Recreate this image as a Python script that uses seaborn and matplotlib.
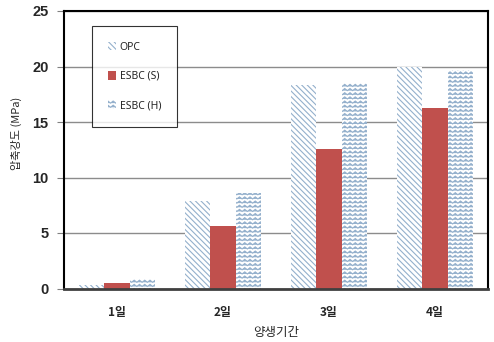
import warnings
warnings.filterwarnings("ignore")
import numpy as np
import pandas as pd
import matplotlib
matplotlib.use("Agg")
import matplotlib.pyplot as plt
import matplotlib.hatch as mhatch
from matplotlib.path import Path
from matplotlib.patches import Patch
import seaborn as sns

# ---- data ----
categories = ["1일", "2일", "3일", "4일"]
series = ["OPC", "ESBC (S)", "ESBC (H)"]
opc = [0.3, 7.9, 18.3, 20.0]
esbc_s = [0.5, 5.6, 12.6, 16.3]
esbc_h = [0.9, 8.6, 18.5, 19.7]
y_ticks = [0, 5, 10, 15, 20, 25]
x_label = "양생기간"
y_label = "압축강도 (MPa)"


# ---- custom zigzag hatch ----
class ZigZagHatch(mhatch.HatchPatternBase):
    def __init__(self, hatch, density):
        self.num_rows = int(hatch.count('z') * density)
        self.teeth = int(round(self.num_rows * 0.8))
        self.n = 2 * self.teeth + 1
        self.num_vertices = self.num_rows * self.n if self.num_rows else 0

    def set_vertices_and_codes(self, vertices, codes):
        n = self.n
        xs = np.linspace(0.0, 1.0, n)
        amp = 0.5 / self.num_rows
        for i in range(self.num_rows):
            y0 = (i + 0.25) / self.num_rows
            v = vertices[i * n:(i + 1) * n]
            v[:, 0] = xs
            v[:, 1] = y0 + amp * (np.arange(n) % 2)
            codes[i * n] = Path.MOVETO
            codes[i * n + 1:(i + 1) * n] = Path.LINETO


mhatch._hatch_types.append(ZigZagHatch)

df = pd.DataFrame({
    "day": categories * 3,
    "series": [series[0]] * 4 + [series[1]] * 4 + [series[2]] * 4,
    "value": opc + esbc_s + esbc_h,
})

sns.set_style("white")
plt.rcParams["font.family"] = ["Liberation Sans", "Noto Sans CJK KR", "DejaVu Sans"]
plt.rcParams["hatch.linewidth"] = 0.8

hatch_col = "#94b0cc"
red = "#c0504d"
fills = ["white", red, "white"]
hatches = ["\\\\\\\\\\\\", None, "zzzz"]

fig = plt.figure(figsize=(4.94, 3.42), dpi=100)
ax = fig.add_axes([64 / 494, 1 - 288.5 / 342, 424 / 494, 277.5 / 342])

sns.barplot(data=df, x="day", y="value", hue="series", order=categories,
            hue_order=series, palette=fills, saturation=1, width=0.72,
            gap=0, legend=False, ax=ax, errorbar=None)

for cont, fc, h in zip(ax.containers, fills, hatches):
    for bar in cont:
        bar.set_facecolor(fc)
        bar.set_linewidth(0)
        if h:
            bar.set_hatch(h)
            bar.set_edgecolor(hatch_col)
        else:
            bar.set_edgecolor(fc)

ax.set_ylim(0, 25)
ax.set_yticks(y_ticks)
ax.set_xlim(-0.5, 3.5)
ax.yaxis.grid(True, color="#8c8c8c", linewidth=1.0)
ax.set_axisbelow(True)
for s in ax.spines.values():
    s.set_color("black")
    s.set_linewidth(1.5)
    s.set_visible(True)
ax.spines["bottom"].set_color("#404040")
ax.spines["bottom"].set_linewidth(2)

ax.tick_params(axis="y", which="both", left=True, length=5, width=0.8,
               color="#808080", pad=6, labelsize=10.5)
ax.tick_params(axis="x", bottom=False, pad=9, labelsize=8.5)
for t in ax.get_yticklabels():
    t.set_fontweight("bold")
for t in ax.get_xticklabels():
    t.set_fontweight("bold")
    t.set_family(["Noto Sans CJK KR", "DejaVu Sans"])

ax.set_xlabel(x_label, fontsize=9, family=["Noto Sans CJK KR", "DejaVu Sans"],
              fontweight="medium", labelpad=5)
ax.set_ylabel(y_label, fontsize=8, family=["Noto Sans CJK KR", "DejaVu Sans"],
              fontweight="medium")
ax.yaxis.set_label_coords(-0.1, 0.56)

handles = [Patch(facecolor=fc, edgecolor=(hatch_col if h else fc), hatch=h,
                 linewidth=0) for fc, h in zip(fills, hatches)]
leg = ax.legend(handles, series, loc="upper left", bbox_to_anchor=(0.066, 0.946),
                borderaxespad=0, handlelength=0.8, handleheight=0.9,
                handletextpad=0.35, labelspacing=1.75, borderpad=1.5,
                frameon=True, fancybox=False, edgecolor="black",
                prop={"family": ["Noto Sans", "DejaVu Sans"], "size": 7.5})
leg.get_frame().set_linewidth(0.8)

fig.savefig("out.png", dpi=100, facecolor="white")
